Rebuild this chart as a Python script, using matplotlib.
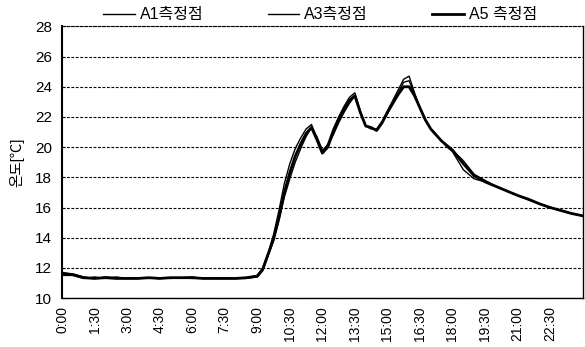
import matplotlib
matplotlib.use("Agg")
import matplotlib.pyplot as plt
from matplotlib.ticker import FixedLocator

plt.rcParams['font.family'] = ['Liberation Sans', 'Noto Sans CJK KR', 'DejaVu Sans']

# time in hours
times = [0, 0.5, 1, 1.5, 2, 2.5, 3, 3.5, 4, 4.5, 5, 5.5, 6, 6.5, 7, 7.5, 8, 8.5,
         9, 9.25, 9.5, 9.75, 10, 10.25, 10.5, 10.75, 11, 11.25, 11.5, 11.75,
         12, 12.25, 12.5, 12.75, 13, 13.25, 13.5, 13.75, 14, 14.25, 14.5, 14.75,
         15, 15.25, 15.5, 15.75, 16, 16.25, 16.5, 16.75, 17, 17.25, 17.5, 17.75,
         18, 18.5, 19, 19.5, 20, 20.5, 21, 21.5, 22, 22.5, 23, 23.5, 24]

a1 = [11.7, 11.6, 11.4, 11.3, 11.4, 11.35, 11.3, 11.3, 11.35, 11.3, 11.35, 11.35, 11.4, 11.3, 11.3, 11.3, 11.3, 11.35,
      11.5, 12.0, 13.0, 14.2, 15.8, 17.6, 18.9, 19.9, 20.6, 21.2, 21.5, 20.6,
      19.7, 20.2, 21.2, 22.0, 22.7, 23.3, 23.6, 22.4, 21.4, 21.2, 21.2, 21.7,
      22.4, 23.1, 23.8, 24.5, 24.7, 23.6, 22.6, 21.8, 21.2, 20.8, 20.4, 20.0,
      19.7, 18.5, 17.9, 17.7, 17.4, 17.1, 16.8, 16.5, 16.25, 16.0, 15.8, 15.6, 15.45]

a3 = [11.5, 11.5, 11.3, 11.4, 11.3, 11.4, 11.3, 11.35, 11.3, 11.35, 11.3, 11.35, 11.3, 11.35, 11.3, 11.35, 11.3, 11.3,
      11.4, 11.8, 12.8, 13.8, 15.2, 16.7, 17.9, 19.0, 19.9, 20.7, 21.3, 20.7,
      19.8, 20.1, 20.8, 21.6, 22.3, 22.9, 23.4, 22.3, 21.4, 21.3, 21.1, 21.6,
      22.2, 22.9, 23.6, 24.3, 24.4, 23.5, 22.6, 21.8, 21.2, 20.8, 20.4, 20.1,
      19.8, 19.1, 18.2, 17.8, 17.4, 17.1, 16.8, 16.55, 16.25, 16.0, 15.8, 15.6, 15.45]

a5 = [11.6, 11.55, 11.35, 11.3, 11.35, 11.3, 11.3, 11.3, 11.35, 11.3, 11.35, 11.35, 11.35, 11.3, 11.3, 11.3, 11.3, 11.35,
      11.45, 11.9, 12.9, 13.9, 15.3, 17.0, 18.3, 19.4, 20.2, 20.9, 21.3, 20.5,
      19.6, 20.0, 21.0, 21.8, 22.5, 23.1, 23.4, 22.3, 21.4, 21.3, 21.1, 21.6,
      22.3, 22.9, 23.5, 24.0, 24.0, 23.4, 22.6, 21.8, 21.2, 20.8, 20.4, 20.1,
      19.8, 18.9, 18.1, 17.7, 17.4, 17.1, 16.8, 16.55, 16.25, 16.0, 15.8, 15.6, 15.45]

series_names = ['A1측정점', 'A3측정점', 'A5 측정점']

tick_pos = [0, 1.5, 3, 4.5, 6, 7.5, 9, 10.5, 12, 13.5, 15, 16.5, 18, 19.5, 21, 22.5]
tick_labels = ['0:00', '1:30', '3:00', '4:30', '6:00', '7:30', '9:00', '10:30',
               '12:00', '13:30', '15:00', '16:30', '18:00', '19:30', '21:00', '22:30']
grid_x = [3, 6, 9, 12, 15, 18, 21]

fig = plt.figure(figsize=(5.85, 3.47), dpi=100)
ax = fig.add_axes([0.106, 0.141, 0.89, 0.783])

ax.plot(times, a1, color='black', lw=1.0, label=series_names[0])
ax.plot(times, a3, color='black', lw=1.0, label=series_names[1])
ax.plot(times, a5, color='black', lw=2.0, label=series_names[2])

ax.set_xlim(0, 24)
ax.set_ylim(10, 28)
ax.set_yticks(range(10, 29, 2))
ax.set_xticks(tick_pos)
ax.set_xticklabels(tick_labels, rotation=90)
ax.xaxis.set_minor_locator(FixedLocator(grid_x))
ax.tick_params(axis='x', which='both', length=0, labelsize=10, pad=6)
ax.tick_params(axis='y', direction='in', length=2, labelsize=11, pad=7)

ax.grid(axis='y', which='major', color='black', linestyle=(0, (2.5, 1.5)), lw=0.8)
ax.grid(axis='x', which='minor', color='black', linestyle=(0, (1.5, 1.5)), lw=0.8)

ax.spines['top'].set_linestyle((0, (2.5, 1.5)))
ax.spines['top'].set_linewidth(0.8)
ax.spines['left'].set_linewidth(1.5)
ax.spines['bottom'].set_linewidth(1.0)
ax.spines['right'].set_linewidth(1.0)

ax.set_ylabel('온도[℃]', fontsize=10.5, labelpad=8)

fig.legend(loc='upper center', bbox_to_anchor=(0.547, 1.02), ncol=3, frameon=False,
           fontsize=11.5, handlelength=2.0, handletextpad=0.3, columnspacing=4.0)

fig.savefig('out.png', dpi=100)
